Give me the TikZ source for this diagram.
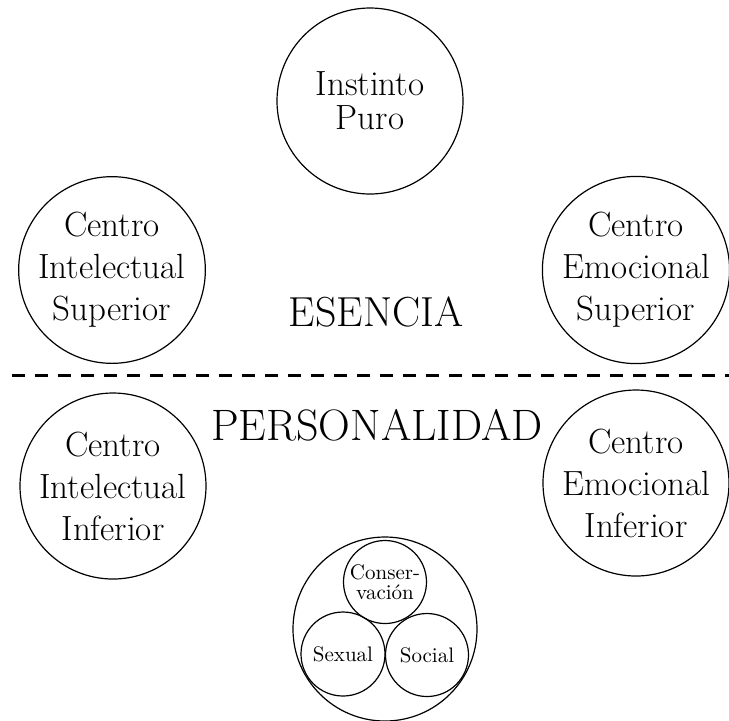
\documentclass[tikz,border=0pt]{standalone}
\usepackage{tikz}
\usetikzlibrary{positioning}

\begin{document}
\begin{tikzpicture}[x=0.5pt,y=-0.5pt,
 centro/.style={circle,draw,line width=0.6pt,align=center,inner sep=0pt,minimum size=93pt,font=\fontsize{17.5}{21}\selectfont},
 instinto/.style={circle,draw,line width=0.6pt,align=center,inner sep=0pt,minimum size=41.5pt,font=\fontsize{10.5}{10}\selectfont}]
 \useasboundingbox (0,0) rectangle (729,720);

 \node[centro, font=\fontsize{17.5}{17}\selectfont] (IP) at (370,101) {Instinto\\Puro};
 \node[centro] (CIS) at (112,270) {Centro\\Intelectual\\Superior};
 \node[centro] (CES) at (636,270) {Centro\\Emocional\\Superior};
 \node[font=\fontsize{21}{21}\selectfont] (es) at (376,312) {ESENCIA};

 % linea entre esencia y personalidad
 \coordinate (dl) at (12,375);
 \coordinate (dr) at (729,375);
 \draw[line width=1.5pt, dash pattern=on 6.5pt off 5pt] (dl) -- (dr);

 \node[font=\fontsize{22}{22}\selectfont] (pe) at (377,425) {PERSONALIDAD};
 \node[centro] (CII) at (113,486) {Centro\\Intelectual\\Inferior};
 \node[centro] (CEI) at (636,483) {Centro\\Emocional\\Inferior};

 % centro instintivo
 \node[circle,draw,line width=0.6pt,minimum size=92pt] (ins) at (385,629) {};
 \node[instinto] (con) at (385,582) {Conser-\\vación};
 \node[instinto, minimum size=42pt] (sex) at (343,654) {Sexual};
 \node[instinto] (soc) at (427,655) {Social};
\end{tikzpicture}
\end{document}
